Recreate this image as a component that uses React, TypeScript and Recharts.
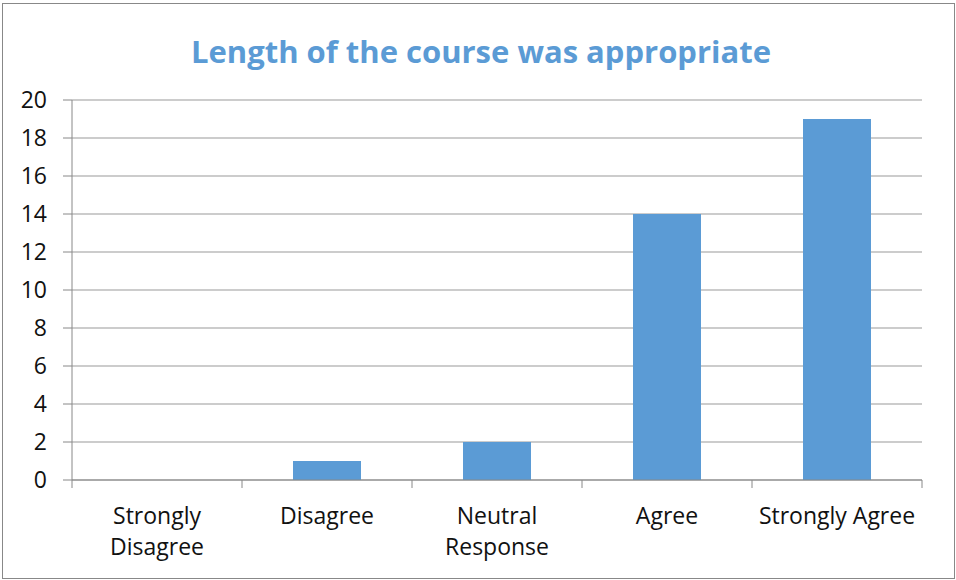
import { BarChart, Bar, XAxis, YAxis, CartesianGrid } from 'recharts';

const categories = ['Strongly\nDisagree', 'Disagree', 'Neutral\nResponse', 'Agree', 'Strongly Agree'];
const responses = [0, 1, 2, 14, 19];
const yTicks = [0, 2, 4, 6, 8, 10, 12, 14, 16, 18, 20];

const data = categories.map((name, i) => ({ name, value: responses[i] }));

const W = 956;
const H = 580;
const margin = { top: 100, right: 34, bottom: 0, left: 0 };
const band = (W - 72 - margin.right) / categories.length;
const FONT = '"Open Sans", sans-serif';

function CategoryTick(props: any) {
    const { x, y, payload, index } = props;
    const lines = String(payload.value).split('\n');
    const left = x - band / 2;
    return (
        <g>
            <line x1={left} y1={y - 8} x2={left} y2={y} stroke="#888" />
            {index === categories.length - 1 && (
                <line x1={x + band / 2} y1={y - 8} x2={x + band / 2} y2={y} stroke="#888" />
            )}
            <text x={x} y={y + 36} textAnchor="middle" fill="#111" fontSize={23} fontFamily={FONT}>
                {lines.map((l, i) => (
                    <tspan key={i} x={x} dy={i === 0 ? 0 : 31}>{l}</tspan>
                ))}
            </text>
        </g>
    );
}

export default function App() {
    return (
        <div style={{ position: 'absolute', left: 0, top: 0, width: W, height: H, background: '#fff' }}>
            <div style={{ position: 'absolute', left: 2, top: 3, width: W - 5, height: H - 6, border: '1px solid #888' }} />
            <div
                style={{
                    position: 'absolute', left: 0, top: 30, width: 962, textAlign: 'center',
                    color: '#5B9BD5', fontWeight: 700, fontSize: 31, fontFamily: FONT,
                }}
            >
                Length of the course was appropriate
            </div>
            <BarChart
                width={W}
                height={H}
                data={data}
                margin={margin}
                barCategoryGap="30%"
                style={{ position: 'absolute', left: 0, top: 0 }}
            >
                <CartesianGrid vertical={false} stroke="#999" />
                <XAxis
                    dataKey="name"
                    axisLine={{ stroke: '#888' }}
                    tickLine={false}
                    interval={0}
                    tick={<CategoryTick />}
                    height={100}
                />
                <YAxis
                    domain={[0, 20]}
                    ticks={yTicks}
                    interval={0}
                    axisLine={{ stroke: '#888' }}
                    tickLine={{ stroke: '#888' }}
                    tickSize={9}
                    tickMargin={16}
                    width={72}
                    tick={{ fill: '#111', fontSize: 23, fontFamily: FONT }}
                />
                <Bar dataKey="value" fill="#5B9BD5" isAnimationActive={false} />
            </BarChart>
        </div>
    );
}
